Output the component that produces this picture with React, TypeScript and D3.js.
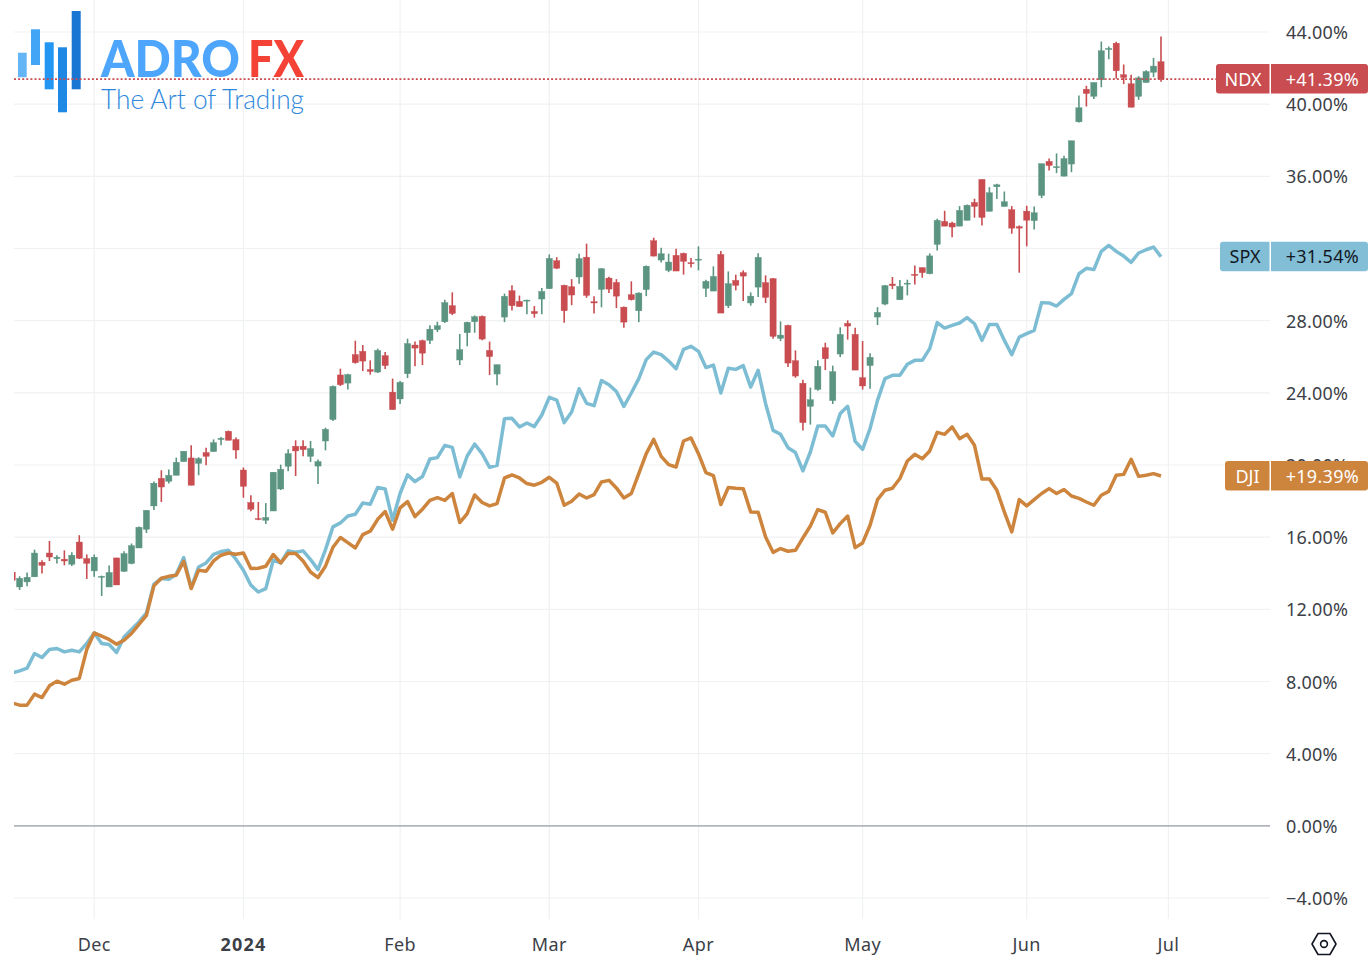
import React from 'react';
import * as d3 from 'd3';

// NDX candles, change in percent since the start of the range
const ndxOpen = [
  14.06,13.24,13.52,13.80,14.61,15.12,14.81,14.78,14.50,15.73,
  14.81,14.13,13.78,13.24,14.85,14.11,14.54,15.40,16.44,17.73,
  19.26,19.10,19.43,20.19,20.39,20.09,20.69,20.74,21.41,21.87,
  21.41,19.72,17.92,17.03,16.94,17.45,18.67,19.93,21.04,21.04,
  20.48,19.94,21.33,22.52,24.99,24.54,26.12,26.30,25.29,25.15,
  26.06,24.04,23.66,25.06,26.65,26.89,26.91,27.50,27.94,28.83,
  25.82,27.33,27.94,28.24,26.35,25.04,28.20,29.66,29.07,29.09,
  28.51,29.20,29.77,31.32,29.96,29.88,30.42,31.52,29.05,29.73,
  30.36,30.12,28.75,29.44,28.55,29.72,32.43,31.36,30.79,31.62,
  31.73,31.21,31.38,29.79,29.64,31.67,28.83,30.23,30.66,28.98,
  29.86,30.11,30.33,27.02,27.74,25.78,24.53,23.25,24.19,26.50,
  23.57,26.15,27.85,27.24,24.84,25.51,28.20,28.92,30.03,29.16,
  30.05,30.57,30.94,30.60,32.23,33.50,33.41,33.24,33.56,34.55,
  35.83,34.06,35.42,34.33,34.15,33.21,34.07,33.54,34.94,36.83,
  36.48,36.01,36.68,39.02,40.83,40.44,41.35,43.03,43.38,41.63,
  41.13,40.43,41.20,41.77,42.35,
];
const ndxClose = [
  13.61,13.72,13.78,15.12,14.44,14.90,14.89,14.68,15.00,14.83,
  14.55,14.89,13.83,14.04,13.35,15.09,15.53,16.55,17.49,18.99,
  18.78,19.43,20.15,20.76,18.88,20.35,20.48,21.24,21.48,21.37,
  20.83,18.82,17.55,16.99,17.09,19.60,19.76,20.63,20.78,20.85,
  20.91,20.19,21.98,24.36,24.45,25.01,25.67,25.76,25.19,26.35,
  25.51,23.07,24.58,26.73,26.48,26.20,27.53,27.72,29.00,28.40,
  26.39,27.91,28.22,26.98,26.01,25.56,29.35,28.83,28.78,29.14,
  28.39,29.62,31.45,30.91,28.55,29.42,31.44,29.40,28.98,30.88,
  29.75,29.36,27.92,29.16,29.53,31.02,31.58,31.71,31.25,30.75,
  31.29,31.16,31.41,30.18,30.45,28.42,30.05,29.96,30.47,29.36,
  31.51,29.29,27.13,27.20,25.65,24.93,22.35,23.62,25.47,25.89,
  25.17,27.24,27.70,25.26,24.38,25.97,28.46,29.94,29.94,29.90,
  30.08,30.51,30.66,31.59,33.56,33.24,33.19,34.11,34.40,34.33,
  33.72,35.09,35.53,34.59,33.13,33.13,33.57,33.98,36.70,36.60,
  36.53,36.98,37.97,39.80,40.59,41.20,42.96,43.09,41.85,41.48,
  39.83,41.46,41.81,42.11,41.39,
];
const ndxHigh = [
  14.11,13.83,14.04,15.31,14.72,15.79,15.00,15.27,15.16,16.11,
  15.04,15.04,13.87,14.43,14.85,15.22,15.65,16.59,17.49,19.08,
  19.71,19.75,20.41,20.76,21.09,20.43,20.96,21.42,21.55,21.91,
  21.52,19.86,18.32,17.95,17.89,19.60,20.02,20.87,21.37,21.37,
  21.33,20.30,22.07,24.40,25.34,25.06,26.89,26.65,25.80,26.45,
  26.26,24.79,24.65,27.00,26.84,26.95,27.74,27.94,29.16,29.57,
  27.26,27.94,28.29,28.28,26.84,25.56,29.50,29.96,29.39,29.16,
  28.81,29.81,31.67,31.52,29.99,30.30,31.71,32.27,29.35,30.91,
  30.44,30.30,28.78,30.18,29.57,31.06,32.60,32.04,31.71,31.99,
  31.77,31.47,32.12,30.27,31.01,31.86,30.73,30.55,30.79,29.57,
  31.73,30.51,30.36,27.96,27.78,26.35,24.73,24.29,25.80,26.78,
  25.51,27.63,28.02,27.61,26.87,26.20,28.75,29.97,30.42,30.25,
  30.27,31.06,30.94,31.73,33.65,34.09,33.48,34.35,34.44,34.76,
  35.83,35.40,35.59,35.16,34.35,33.28,34.37,34.33,36.70,36.99,
  37.27,37.14,37.97,40.48,41.02,41.20,43.47,43.20,43.46,42.20,
  41.63,41.55,41.88,42.57,43.75,
];
const ndxLow = [
  13.56,13.07,13.28,13.80,13.98,14.68,14.54,14.44,14.40,14.79,
  13.68,13.80,12.74,13.24,13.35,14.07,14.50,15.40,16.23,17.51,
  17.95,18.97,19.43,20.19,18.88,19.43,19.98,20.74,21.09,21.37,
  20.35,18.19,17.44,16.94,16.73,17.45,18.61,19.65,19.39,20.48,
  20.17,18.95,20.81,22.44,24.38,24.18,25.62,25.21,25.01,25.10,
  25.32,23.07,23.38,24.82,25.48,25.54,26.70,27.37,27.87,28.31,
  25.54,26.58,27.33,26.91,24.99,24.42,27.92,28.57,28.78,28.35,
  28.17,28.35,29.77,30.86,27.89,28.86,30.05,29.27,28.40,28.74,
  29.53,28.70,27.61,29.12,27.92,29.36,31.56,31.23,30.69,30.75,
  30.55,30.94,30.79,29.31,29.64,28.42,28.70,29.68,29.09,28.83,
  29.31,28.98,27.00,26.87,25.43,24.84,21.91,22.24,24.12,25.26,
  23.38,25.98,26.95,25.26,24.18,24.23,27.76,28.86,29.75,29.16,
  29.40,30.01,30.38,30.57,31.89,33.24,32.63,33.24,33.56,33.71,
  33.28,34.06,34.74,34.33,32.82,30.66,32.12,33.06,34.79,36.33,
  36.18,36.01,36.23,38.99,39.87,40.28,40.94,42.49,41.41,41.11,
  39.83,40.24,41.20,41.50,41.24,
];
const spxValues = [
  8.48,8.59,8.74,9.55,9.33,9.77,9.83,9.64,9.73,9.64,
  10.11,10.69,10.11,10.05,9.61,10.47,10.88,11.30,11.80,13.39,
  13.71,13.67,13.94,14.87,13.19,14.35,14.57,15.05,15.20,15.27,
  14.78,14.17,13.34,12.96,13.15,14.72,14.57,15.24,15.16,15.24,
  14.76,14.20,15.31,16.57,16.79,17.17,17.27,17.89,17.82,18.75,
  18.67,16.94,18.42,19.45,19.08,19.36,20.33,20.41,21.09,20.98,
  19.34,20.50,21.16,20.63,19.87,19.98,22.57,22.59,22.11,22.33,
  22.13,22.77,23.75,23.60,22.35,22.94,24.23,23.42,23.29,24.68,
  24.45,24.07,23.25,23.99,24.79,25.84,26.26,26.12,25.76,25.34,
  26.41,26.58,26.30,25.40,25.54,23.99,25.36,25.30,25.51,24.32,
  25.25,23.40,21.92,21.70,20.96,20.69,19.67,20.72,22.16,22.16,
  21.61,22.85,23.25,21.31,20.87,22.02,23.58,24.79,24.97,24.97,
  25.58,25.80,25.80,26.45,27.89,27.59,27.74,27.87,28.17,27.83,
  26.91,27.79,27.79,26.91,26.12,27.09,27.28,27.46,29.00,28.98,
  28.81,29.18,29.50,30.60,30.90,30.83,31.84,32.17,31.84,31.58,
  31.23,31.75,31.93,32.08,31.54,
];
const djiValues = [
  6.81,6.69,6.69,7.30,7.11,7.76,8.02,7.85,8.07,8.17,
  9.77,10.69,10.51,10.33,10.07,10.29,10.66,11.17,11.67,13.30,
  13.72,13.83,13.89,14.66,13.15,14.17,14.11,14.68,15.00,15.12,
  15.05,15.12,14.26,14.28,14.39,15.04,14.57,15.09,15.09,14.68,
  14.07,13.76,14.39,15.44,15.98,15.70,15.40,16.14,16.33,16.99,
  17.42,16.44,17.62,17.97,17.14,17.55,18.04,18.19,18.04,18.42,
  16.81,17.31,18.34,17.92,17.73,17.86,19.28,19.45,19.28,18.97,
  18.88,19.04,19.32,19.00,17.77,17.99,18.39,18.17,18.36,19.06,
  19.15,18.73,18.17,18.42,19.52,20.63,21.42,20.48,20.02,19.89,
  21.33,21.50,20.63,19.58,19.41,17.81,18.75,18.71,18.69,17.40,
  17.38,16.01,15.16,15.37,15.22,15.27,15.96,16.62,17.53,17.38,
  16.23,16.75,17.17,15.42,15.68,16.66,18.08,18.60,18.71,19.25,
  20.22,20.59,20.35,20.78,21.81,21.70,22.11,21.46,21.70,21.09,
  19.22,19.22,18.60,17.40,16.29,18.08,17.73,18.08,18.42,18.69,
  18.42,18.64,18.28,18.15,17.95,17.77,18.32,18.54,19.43,19.48,
  20.32,19.37,19.43,19.52,19.39,
];

const priceTicks = [44, 40, 36, 32, 28, 24, 20, 16, 12, 8, 4, 0, -4];
const monthLabels = ['Dec', '2024', 'Feb', 'Mar', 'Apr', 'May', 'Jun', 'Jul'];
const monthIndex = [11, 31, 52, 72, 92, 114, 136, 155];

const FONT = '"Noto Sans", sans-serif';
const GREEN = '#5b9581';
const RED = '#c84c50';
const BLUE = '#7dbdd4';
const ORANGE = '#cd843d';
const GRID = '#f0f1f3';

const x = d3.scaleLinear().domain([0, 155]).range([12.15, 1168.45]);
const y = d3.scaleLinear().domain([-4, 44]).range([898, 32]);

const seriesLine = d3
  .line<number>()
  .x((_, i) => x(i))
  .y((d) => y(d));

const tickFormat = (v: number) => (v < 0 ? '\u2212' : '') + d3.format('.2f')(Math.abs(v)) + '%';

function Tag({ name, value, left, color, textColor }: any) {
  const cy = y(value);
  const label = '+' + d3.format('.2f')(value) + '%';
  return (
    <g>
      <path
        d={`M1269.5 ${cy - 15} H${left + 3} Q${left} ${cy - 15} ${left} ${cy - 12} V${cy + 11.5} Q${left} ${cy + 14.5} ${left + 3} ${cy + 14.5} H1269.5 Z`}
        fill={color}
      />
      <path
        d={`M1271 ${cy - 15} H1365 Q1368 ${cy - 15} 1368 ${cy - 12} V${cy + 11.5} Q1368 ${cy + 14.5} 1365 ${cy + 14.5} H1271 Z`}
        fill={color}
      />
      <text x={1243 + (left - 1216) / 2} y={cy + 6.5} textAnchor="middle" fontSize={18} fill={textColor} fontFamily={FONT}>
        {name}
      </text>
      <text x={1359} y={cy + 6.5} textAnchor="end" fontSize={18} letterSpacing={0.3} fill={textColor} fontFamily={FONT}>
        {label}
      </text>
    </g>
  );
}

function Logo() {
  return (
    <g>
      <rect x={18} y={52.7} width={8.7} height={24.6} fill="#64b5f6" />
      <rect x={31} y={29.3} width={9} height={35.7} fill="#42a5f5" />
      <rect x={44.7} y={42.3} width={9} height={47} fill="#2196f3" />
      <rect x={58} y={47.3} width={9} height={65} fill="#1e88e5" />
      <rect x={71.7} y={11} width={9} height={78.3} fill="#1976d2" />
      <text x={101} y={77} fontSize={52} fontWeight={900} fill="#4da6fb" fontFamily="Lato, sans-serif" textLength={139} lengthAdjust="spacingAndGlyphs">
        ADRO
      </text>
      <text x={248} y={77} fontSize={52} fontWeight={900} fill="#f44336" fontFamily="Lato, sans-serif" textLength={56} lengthAdjust="spacingAndGlyphs">
        FX
      </text>
      <text x={101} y={109} fontSize={27} fontWeight={300} fill="#2f88dc" fontFamily="Lato, sans-serif" textLength={203} lengthAdjust="spacingAndGlyphs">
        The Art of Trading
      </text>
    </g>
  );
}

export default function App() {
  const closeY = y(ndxClose[ndxClose.length - 1]);
  return (
    <svg width={1372} height={968} style={{ position: 'absolute', left: 0, top: 0, background: '#fff' }}>
      <defs>
        <clipPath id="plot">
          <rect x={14} y={0} width={1256} height={920} />
        </clipPath>
      </defs>

      {monthIndex.map((m) => (
        <line key={m} x1={x(m)} x2={x(m)} y1={0} y2={919} stroke={GRID} strokeWidth={1.2} />
      ))}
      {priceTicks.map((t) => (
        <line key={t} x1={14} x2={1270} y1={y(t)} y2={y(t)} stroke={t === 0 ? '#b2b5be' : GRID} strokeWidth={t === 0 ? 1.6 : 1.2} />
      ))}

      <Logo />

      <g clipPath="url(#plot)">
        {ndxOpen.map((o, i) => {
          const c = ndxClose[i];
          const color = c >= o ? GREEN : RED;
          return (
            <g key={i} fill={color} stroke={color}>
              <line x1={x(i)} x2={x(i)} y1={y(ndxHigh[i])} y2={y(ndxLow[i])} strokeWidth={1.6} />
              <rect
                x={x(i) - 3.1}
                y={y(Math.max(o, c))}
                width={6.2}
                height={Math.max(y(Math.min(o, c)) - y(Math.max(o, c)), 1)}
                strokeWidth={0.4}
              />
            </g>
          );
        })}
        <path d={seriesLine(spxValues)!} fill="none" stroke={BLUE} strokeWidth={3.5} strokeLinejoin="round" />
        <path d={seriesLine(djiValues)!} fill="none" stroke={ORANGE} strokeWidth={3.5} strokeLinejoin="round" />
      </g>

      <line x1={14} x2={1216} y1={closeY} y2={closeY} stroke={RED} strokeWidth={1.8} strokeDasharray="2 2.1" />

      {priceTicks.map((t) => (
        <text key={t} x={1286} y={y(t) + 7} fontSize={18} letterSpacing={0.2} fill="#3c3f47" fontFamily={FONT}>
          {tickFormat(t)}
        </text>
      ))}
      {monthLabels.map((m, i) => (
        <text
          key={m}
          x={x(monthIndex[i])}
          y={950.5}
          textAnchor="middle"
          fontSize={18}
          fontWeight={m === '2024' ? 700 : 400}
          letterSpacing={m === '2024' ? 1.2 : 0.4}
          fill="#3c3f47"
          fontFamily={FONT}
        >
          {m}
        </text>
      ))}

      <Tag name="NDX" value={41.39} left={1216} color={RED} textColor="#fff" />
      <Tag name="SPX" value={31.54} left={1220} color="#82bfd7" textColor="#131722" />
      <Tag name="DJI" value={19.39} left={1225} color={ORANGE} textColor="#fff" />

      <path
        d="M1312 944 L1318 933.5 H1330 L1336 944 L1330 954.5 H1318 Z"
        fill="none"
        stroke="#131722"
        strokeWidth={1.6}
        strokeLinejoin="round"
      />
      <circle cx={1324} cy={944} r={3.4} fill="none" stroke="#131722" strokeWidth={1.6} />
    </svg>
  );
}
